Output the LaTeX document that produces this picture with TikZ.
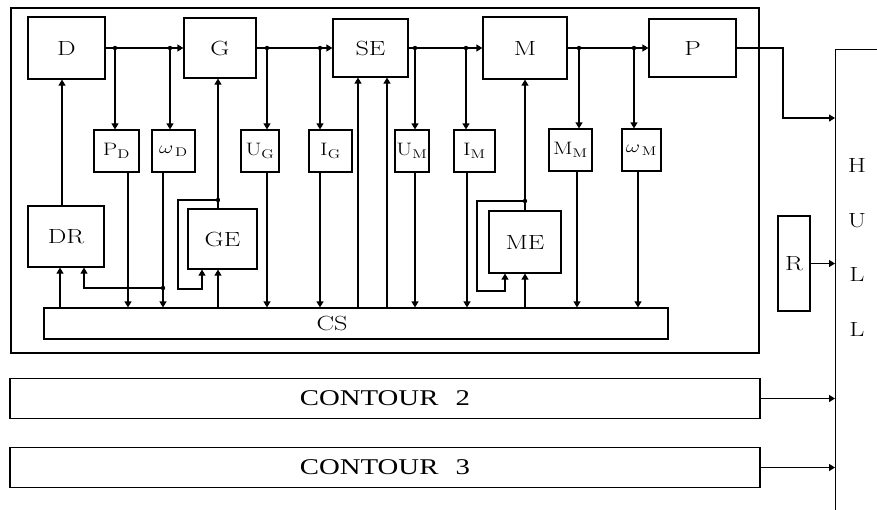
\documentclass[tikz,border=0pt]{standalone}
\usepackage{amsmath}
\usepackage{fontspec}
\newfontfamily\cfont{Liberation Serif}
\usetikzlibrary{arrows.meta}
\newcommand{\wlab}[1]{\scalebox{1.28}[1]{#1}}

\begin{document}
\begin{tikzpicture}[x=1pt, y=-1pt, line width=1.2pt,
    blk/.style={draw, inner sep=0pt, font=\fontsize{20.5}{24}\selectfont},
    sblk/.style={draw, inner sep=0pt, minimum height=42pt, font=\fontsize{18}{22}\selectfont},
    cblk/.style={draw, inner sep=0pt, minimum width=750pt, minimum height=40pt, font=\fontsize{22.5}{26}\selectfont\cfont},
    arr/.style={-{Triangle[length=6pt,width=7pt]}}]
  \path[use as bounding box, fill=white] (0,0) rectangle (877,509);
  \draw (11,8) rectangle (759,353);

  \node[blk, minimum width=77pt, minimum height=62pt] (D) at (66.5,48) {\wlab{D}};
  \node[blk, minimum width=72pt, minimum height=60pt] (G) at (220,48) {\wlab{G}};
  \node[blk, minimum width=75pt, minimum height=58pt] (SE) at (370.5,48) {\wlab{SE}};
  \node[blk, minimum width=84pt, minimum height=62pt] (M) at (525,48) {\wlab{M}};
  \node[blk, minimum width=87pt, minimum height=58pt] (P) at (692.5,48) {\wlab{P}};

  \node[sblk, minimum width=45pt] (PD) at (116.5,151) {\wlab{$\mathrm{P}_{\mathrm{D}}$}};
  \node[sblk, minimum width=43pt] (wD) at (173.5,151) {\wlab{$\omega_{\,\mathrm{D}}$}};
  \node[sblk, minimum width=38pt] (UG) at (260,151) {\wlab{$\mathrm{U}_{\mathrm{G}}$}};
  \node[sblk, minimum width=43pt] (IG) at (330.5,151) {\wlab{$\mathrm{I}_{\mathrm{G}}$}};
  \node[sblk, minimum width=34pt] (UM) at (412,151) {\wlab{$\mathrm{U}_{\mathrm{M}}$}};
  \node[sblk, minimum width=41pt] (IM) at (474.5,151) {\wlab{$\mathrm{I}_{\mathrm{M}}$}};
  \node[sblk, minimum width=43pt] (MM) at (570.5,150) {\wlab{$\mathrm{M}_{\mathrm{M}}$}};
  \node[sblk, minimum width=39pt] (wM) at (641.5,150) {\wlab{$\omega_{\,\mathrm{M}}$}};

  \node[blk, minimum width=76pt, minimum height=61pt] (DR) at (66,236.5) {\wlab{DR}};
  \node[blk, minimum width=69pt, minimum height=60pt] (GE) at (222.5,239) {\wlab{GE}};
  \node[blk, minimum width=72pt, minimum height=62pt] (ME) at (525,242) {\wlab{ME}};
  \node[draw, inner sep=0pt, minimum width=624pt, minimum height=31pt] (CS) at (356,323.5) {};
  \node[font=\fontsize{20.5}{24}\selectfont] (CSt) at (332,323.5) {\wlab{CS}};

  \node[blk, minimum width=32pt, minimum height=95pt] (R) at (794,263.5) {\wlab{R}};
  \node[draw, anchor=north west, minimum width=100pt, minimum height=500pt] (HULL) at (835,49) {};
  \node[align=center, font=\fontsize{20.5}{54.5}\selectfont] (HULLt) at (857,247.5)
    {\wlab{H}\\\wlab{U}\\\wlab{L}\\\wlab{L}};

  \node[cblk] (C2) at (385,398.5) {\wlab{CONTOUR\hspace{0.6em}2}};
  \node[cblk] (C3) at (385,467.5) {\wlab{CONTOUR\hspace{0.6em}3}};

  \draw[arr] (D) -- (G);
  \draw[arr] (G) -- (SE);
  \draw[arr] (SE) -- (M);
  \draw[arr] (M) -- (P);

  \foreach \n/\x in {PD/115, wD/170, UG/267, IG/320, UM/415, IM/466, MM/579, wM/634} {
    \coordinate (j\n) at (\x,48);
    \fill (j\n) circle (2.2pt);
    \draw[arr] (j\n) -- (j\n |- \n.north);
  }
  \foreach \n/\x in {PD/128, wD/163, UG/267, IG/320, UM/415, IM/467, MM/577, wM/638}
    \draw[arr] (\n.south -| \x,0) -- (CS.north -| \x,0);

  \draw[arr] (DR.north -| 62,0) -- (D.south -| 62,0);
  \draw[arr] (CS.north -| 60,0) -- (DR.south -| 60,0);
  \coordinate (jDR) at (163,288);
  \fill (jDR) circle (2.2pt);
  \draw[arr] (jDR) -| (DR.south -| 84,0);

  \draw[arr] (GE.north -| 218,0) -- (G.south -| 218,0);
  \coordinate (jGE) at (218,200);
  \fill (jGE) circle (2.2pt);
  \draw[arr] (jGE) -- ++(-40,0) |- (202,289) -- (GE.south -| 202,0);
  \draw[arr] (CS.north -| 218,0) -- (GE.south -| 218,0);

  \foreach \x in {358,387}
    \draw[arr] (CS.north -| \x,0) -- (SE.south -| \x,0);

  \draw[arr] (ME.north) -- (M.south);
  \coordinate (jME) at (525,201);
  \fill (jME) circle (2.2pt);
  \draw[arr] (jME) -- ++(-48,0) |- (505,291) -- (ME.south -| 505,0);
  \draw[arr] (CS.north -| ME.south) -- (ME.south);

  \draw[arr] (P.east) -| (783,118) -- (HULL.west |- 0,118);
  \draw[arr] (R) -- (HULL.west |- R);
  \draw[arr] (C2) -- (HULL.west |- C2);
  \draw[arr] (C3) -- (HULL.west |- C3);
\end{tikzpicture}
\end{document}
